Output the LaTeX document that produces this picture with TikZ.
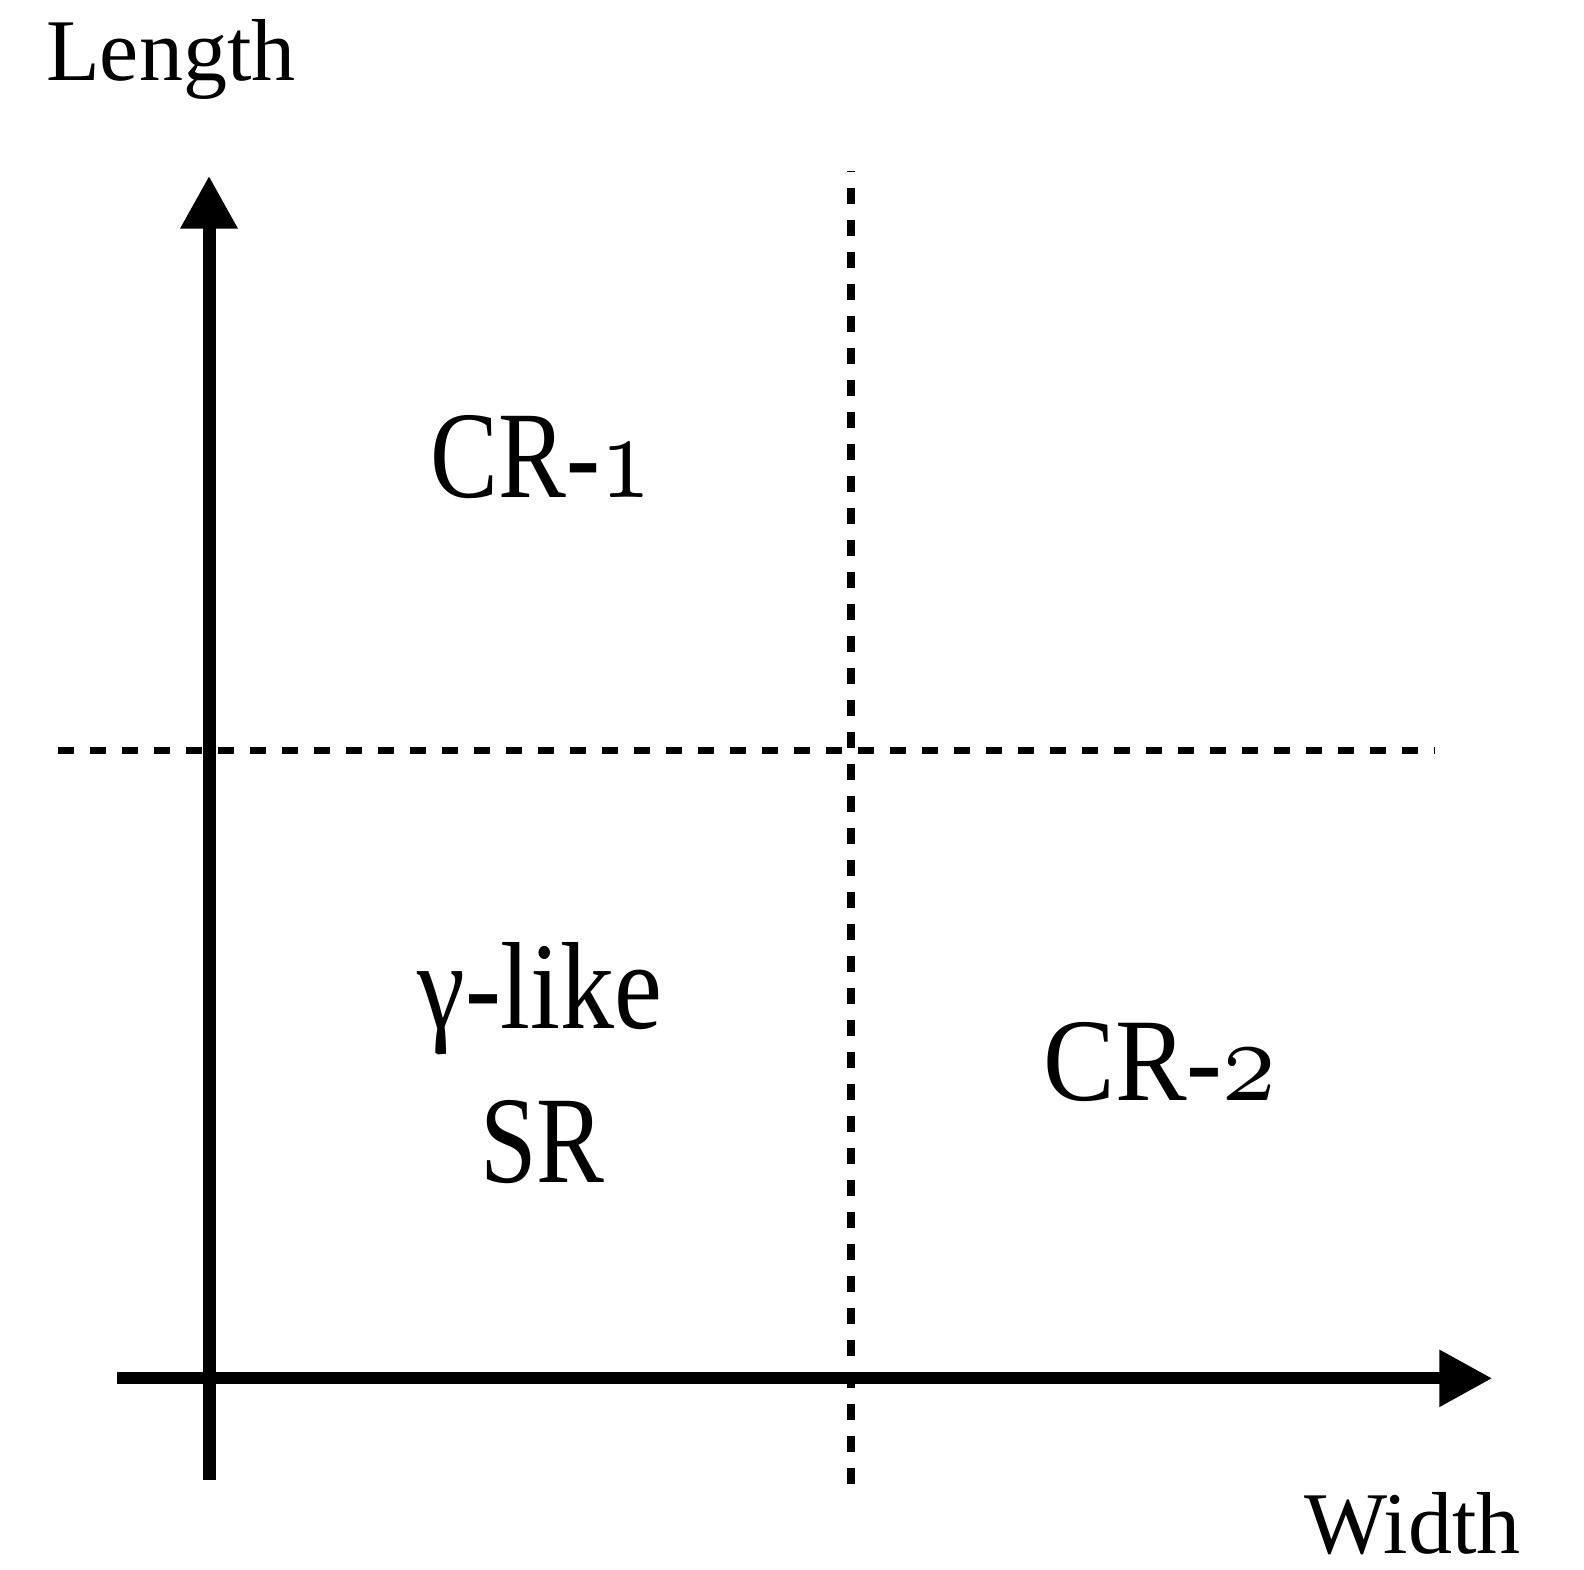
\documentclass[tikz,border=0pt]{standalone}
\usepackage{fontspec}
\setmainfont{Liberation Serif}
\usepackage{graphicx}
\usetikzlibrary{arrows.meta}
\font\osnA=cmmi10 at 124pt
\font\osnB=cmmi10 at 118pt
\tikzset{
  axis/.style={line width=13pt, -{Triangle[length=53pt,width=54pt]}},
  grid line/.style={line width=7.5pt, dash pattern=on 16pt off 16pt},
  axislbl/.style={inner sep=0pt, text depth=0pt, font=\fontsize{88}{106}\selectfont},
  reglbl/.style={inner sep=0pt, anchor=base, font=\fontsize{124}{149}\selectfont},
}
\begin{document}
\begin{tikzpicture}[x=1pt,y=-1pt]
\useasboundingbox[fill=white] (0,0) rectangle (1584,1569);
% coordinates
\coordinate (hl) at (58,750.3);
\coordinate (hr) at (1435,750.3);
\coordinate (vb) at (851,1484);
\coordinate (vt) at (851,171);
\coordinate (yb) at (209,1480);
\coordinate (yt) at (209,175.7);
\coordinate (xl) at (117,1378.3);
\coordinate (xr) at (1492.3,1378.3);
% dashed boundaries
\draw[grid line] (hl) -- (hr);
\draw[grid line] (vb) -- (vt);
% axes
\draw[axis] (yb) -- (yt);
\draw[axis, line width=12pt] (xl) -- (xr);
% axis labels
\node[axislbl, anchor=base west] (len) at (46,80) {Length};
\node[axislbl, anchor=base east] (wid) at (1521,1553) {Width};
% region labels
\node[reglbl] (cr1) at (541,497.7) {\scalebox{0.82}[1]{CR-{\osnA 1}}};
\node[reglbl] (gam) at (540,1028) {\scalebox{0.87}[1]{γ-like}};
\node[reglbl] (sr) at (542.5,1182) {\scalebox{0.82}[1]{SR}};
\node[reglbl, font=\fontsize{118}{142}\selectfont] (cr2) at (1160,1100) {\scalebox{0.91}[1]{CR-{\osnB 2}}};
\end{tikzpicture}
\end{document}
